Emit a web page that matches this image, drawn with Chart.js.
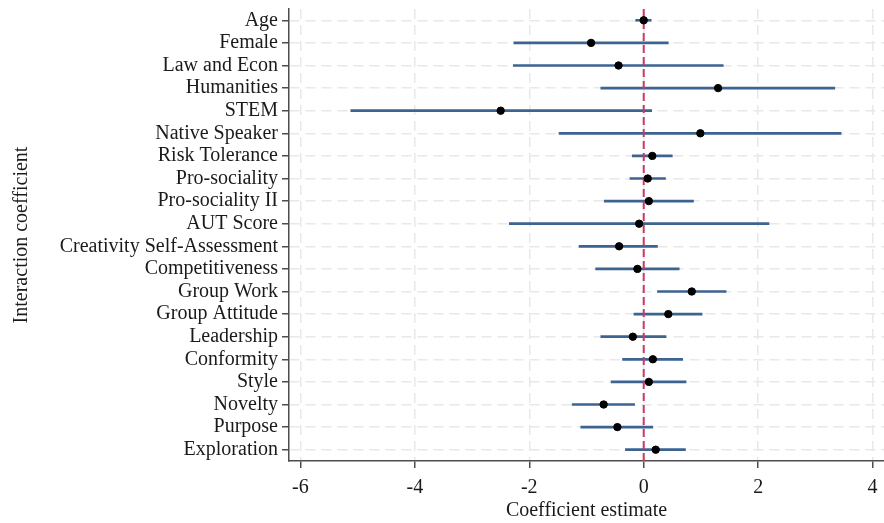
<!DOCTYPE html>
<html>
<head>
<meta charset="utf-8">
<script src="https://cdn.jsdelivr.net/npm/chart.js@4"></script>
<style>
  html, body { margin: 0; padding: 0; background: #fff; }
  #wrap { width: 884px; height: 523px; }
</style>
</head>
<body>
<div id="wrap"><canvas id="chart" width="884" height="523"></canvas></div>
<script>
const labels = ['Age', 'Female', 'Law and Econ', 'Humanities', 'STEM', 'Native Speaker',
  'Risk Tolerance', 'Pro-sociality', 'Pro-sociality II', 'AUT Score',
  'Creativity Self-Assessment', 'Competitiveness', 'Group Work', 'Group Attitude',
  'Leadership', 'Conformity', 'Style', 'Novelty', 'Purpose', 'Exploration'];

const estimates = [0.00, -0.92, -0.44, 1.30, -2.50, 0.99, 0.15, 0.07, 0.09, -0.08,
  -0.43, -0.11, 0.84, 0.43, -0.19, 0.16, 0.09, -0.70, -0.46, 0.21];
const ciLow = [-0.14, -2.27, -2.28, -0.75, -5.12, -1.48, -0.20, -0.24, -0.69, -2.35,
  -1.13, -0.84, 0.24, -0.17, -0.75, -0.37, -0.57, -1.25, -1.10, -0.32];
const ciHigh = [0.13, 0.43, 1.39, 3.34, 0.14, 3.45, 0.50, 0.38, 0.87, 2.19,
  0.24, 0.62, 1.44, 1.02, 0.39, 0.68, 0.74, -0.16, 0.16, 0.73];

const xTicks = [-6, -4, -2, 0, 2, 4];

const colors = {
  ci: '#3d6391',
  dot: '#000000',
  zero: '#c93a62',
  grid: '#e8e8e8',
  axis: '#4d4d4d',
  text: '#1a1a1a'
};

const serif = '"Liberation Serif", "DejaVu Serif", serif';
const fontSize = 20;

// red dashed reference line at 0, drawn after the CI bars but before the dots
const zeroLine = {
  id: 'zeroLine',
  afterDatasetDraw(chart, args) {
    if (args.index !== 0) return;
    const { ctx, chartArea, scales } = chart;
    const x = scales.x.getPixelForValue(0);
    ctx.save();
    ctx.strokeStyle = colors.zero;
    ctx.lineWidth = 2;
    ctx.setLineDash([8, 4]);
    ctx.beginPath();
    ctx.moveTo(x, chartArea.top);
    ctx.lineTo(x, chartArea.bottom);
    ctx.stroke();
    ctx.restore();
  }
};

const gridOpts = {
  color: colors.grid,
  lineWidth: 1.5,
  tickColor: colors.axis,
  tickLength: 7,
  tickBorderDash: [],
  tickWidth: 1.5
};

new Chart(document.getElementById('chart'), {
  type: 'bar',
  data: {
    labels: labels,
    datasets: [
      {
        type: 'bar',
        data: labels.map((l, i) => [ciLow[i], ciHigh[i]]),
        backgroundColor: colors.ci,
        borderWidth: 0,
        barThickness: 2,
        order: 2
      },
      {
        type: 'scatter',
        data: labels.map((l, i) => ({ x: estimates[i], y: l })),
        backgroundColor: colors.dot,
        borderColor: colors.dot,
        pointRadius: 3.7,
        showLine: false,
        order: 1
      }
    ]
  },
  options: {
    indexAxis: 'y',
    responsive: false,
    animation: false,
    layout: { autoPadding: false, padding: { top: 9, right: 0, left: 0, bottom: 0 } },
    plugins: {
      legend: { display: false },
      tooltip: { enabled: false }
    },
    scales: {
      x: {
        type: 'linear',
        min: -6.2,
        max: 4.2,
        afterBuildTicks(scale) {
          scale.ticks = xTicks.map(v => ({ value: v }));
        },
        afterFit(scale) {
          scale.height = 62;
          scale.paddingLeft = 0;
          scale.paddingRight = 0;
        },
        ticks: {
          color: colors.text,
          font: { family: serif, size: fontSize },
          padding: 8,
          callback: v => String(v)
        },
        grid: gridOpts,
        border: { display: true, color: colors.axis, width: 1.5, dash: [10, 6] },
        title: {
          display: true,
          text: 'Coefficient estimate',
          color: colors.text,
          font: { family: serif, size: fontSize },
          padding: { top: 0, bottom: 0 }
        }
      },
      y: {
        type: 'category',
        offset: true,
        afterFit(scale) {
          scale.width = 289;
          scale.paddingTop = 0;
          scale.paddingBottom = 0;
        },
        ticks: {
          color: colors.text,
          font: { family: serif, size: fontSize },
          padding: 4,
          autoSkip: false
        },
        grid: Object.assign({ offset: false }, gridOpts),
        border: { display: true, color: colors.axis, width: 1.5, dash: [10, 6] },
        title: {
          display: true,
          text: 'Interaction coefficient',
          color: colors.text,
          font: { family: serif, size: fontSize },
          padding: { top: 10, bottom: 0 }
        }
      }
    }
  },
  plugins: [zeroLine]
});
</script>
</body>
</html>
